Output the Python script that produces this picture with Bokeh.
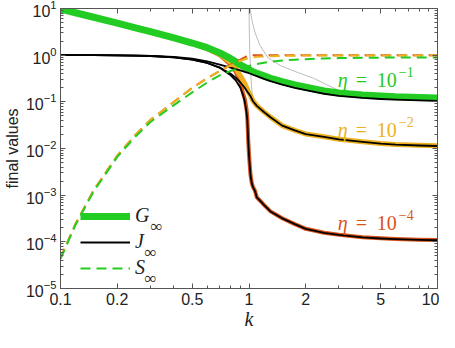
from bokeh.plotting import figure
from bokeh.models import (FixedTicker, LogAxis, CustomJSTickFormatter, Label,
                          Legend, LegendItem, Range1d)
from bokeh.embed import file_html
from bokeh.resources import INLINE

# ---------------- data ----------------
k_main = [0.1, 0.12, 0.15, 0.2, 0.25, 0.3, 0.4, 0.5, 0.6, 0.7, 0.8, 0.85, 0.9,
          0.95, 0.98, 1.0, 1.02, 1.05, 1.1, 1.2, 1.3, 1.5, 1.75, 2, 2.5, 3, 4,
          5, 6, 8, 10]

# eta = 1e-1 (green)
G_eta1 = [9.7, 8.1, 6.5, 4.85, 3.85, 3.2, 2.35, 1.82, 1.45, 1.12, 0.84, 0.72,
          0.62, 0.55, 0.51, 0.49, 0.47, 0.44, 0.41, 0.36, 0.32, 0.27, 0.23,
          0.205, 0.172, 0.155, 0.14, 0.133, 0.128, 0.124, 0.121]
J_eta1 = [1.0, 0.9998, 0.9988, 0.993, 0.98, 0.963, 0.915, 0.84, 0.74, 0.63,
          0.54, 0.50, 0.47, 0.44, 0.425, 0.41, 0.40, 0.38, 0.355, 0.31, 0.277,
          0.234, 0.2, 0.178, 0.149, 0.134, 0.121, 0.115, 0.111, 0.107, 0.105]
S_eta1 = [4.3e-5, 2.3e-4, 0.0012, 0.0066, 0.018, 0.037, 0.085, 0.16, 0.26,
          0.37, 0.46, 0.50, 0.53, 0.56, 0.575, 0.59, 0.60, 0.62, 0.645, 0.69,
          0.723, 0.766, 0.80, 0.822, 0.851, 0.866, 0.879, 0.885, 0.889, 0.893,
          0.895]

# eta = 1e-2 (orange)
G_eta2 = [9.7, 8.1, 6.5, 4.85, 3.85, 3.2, 2.33, 1.78, 1.38, 1.03, 0.70, 0.52,
          0.36, 0.25, 0.185, 0.155, 0.135, 0.105, 0.083, 0.061, 0.047, 0.031,
          0.0245, 0.0205, 0.0178, 0.0158, 0.014, 0.0128, 0.0122, 0.0117, 0.0114]
J_eta2 = [1.0, 0.9998, 0.9987, 0.993, 0.98, 0.959, 0.9, 0.8, 0.68, 0.54, 0.40,
          0.33, 0.26, 0.2, 0.165, 0.148, 0.131, 0.103, 0.082, 0.0605, 0.0467,
          0.0309, 0.0244, 0.0204, 0.0177, 0.0157, 0.0139, 0.0127, 0.0121,
          0.0116, 0.0113]
S_eta2 = [4.5e-5, 2.4e-4, 0.00128, 0.007, 0.0198, 0.041, 0.1, 0.2, 0.32, 0.46,
          0.60, 0.68, 0.76, 0.82, 0.85, 0.865, 0.88, 0.9, 0.92, 0.94, 0.953,
          0.969, 0.976, 0.98, 0.982, 0.984, 0.986, 0.987, 0.988, 0.988, 0.989]

# eta = 1e-4 (red)
k_red = [0.1, 0.12, 0.15, 0.2, 0.25, 0.3, 0.4, 0.5, 0.6, 0.7, 0.8, 0.85, 0.9,
         0.93, 0.95, 0.97, 0.98, 0.99, 1.0, 1.01, 1.02, 1.035, 1.05, 1.075, 1.1,
         1.15, 1.2, 1.3, 1.5, 1.75, 2, 2.5, 3, 4, 5, 6, 8, 10]
G_eta4 = [9.7, 8.1, 6.5, 4.85, 3.85, 3.2, 2.33, 1.77, 1.36, 1.0, 0.62, 0.44,
          0.27, 0.15, 0.115, 0.07, 0.045, 0.016, 0.0075, 0.0042, 0.0026,
          0.0018, 0.0015, 0.00125, 0.0009, 0.00075, 0.00062, 0.00045, 0.00032,
          0.00024, 0.00019, 0.000157, 0.000142, 0.000126, 0.000119, 0.000115,
          0.000111, 0.000109]
J_eta4 = [1.0, 0.9998, 0.9987, 0.993, 0.98, 0.959, 0.9, 0.8, 0.68, 0.54, 0.37,
          0.29, 0.2, 0.14, 0.1, 0.06, 0.04, 0.015, 0.0072, 0.0041, 0.00258,
          0.00179, 0.00149, 0.00124, 0.000895, 0.000746, 0.000617, 0.000448,
          0.000319, 0.000239, 0.000189, 0.000156, 0.000141, 0.000125, 0.000118,
          0.000114, 0.00011, 0.000108]
S_eta4 = [4.5e-5, 2.4e-4, 0.00128, 0.007, 0.0198, 0.041, 0.1, 0.2, 0.32, 0.46,
          0.63, 0.71, 0.80, 0.86, 0.9, 0.94, 0.96, 0.985, 0.993, 0.996, 0.9974,
          0.9982, 0.9985, 0.9988, 0.9991, 0.9993, 0.9994, 0.9996, 0.9997,
          0.9998, 0.9998, 0.9998, 0.9999, 0.9999, 0.9999, 0.9999, 0.9999,
          0.9999]

# thin grey curves near k = 1
k_grey_a = [1.0005, 1.004, 1.01, 1.018, 1.03, 1.045, 1.06]
grey_a = [10.5, 3.0, 1.1, 0.55, 0.23, 0.12, 0.085]
k_grey_b = [1.012, 1.033, 1.074, 1.14, 1.26, 1.476, 1.8, 2.2, 2.6, 3.0]
grey_b = [10.5, 5.9, 3.13, 1.66, 0.88, 0.59, 0.43, 0.32, 0.23, 0.175]

x_major = [0.1, 0.2, 0.5, 1, 2, 5, 10]
x_minor = [0.3, 0.4, 0.6, 0.7, 0.8, 0.9, 3, 4, 6, 7, 8, 9]
y_major = [1e-5, 1e-4, 1e-3, 1e-2, 1e-1, 1, 10]
y_minor = [m * 10.0 ** e for e in range(-5, 1) for m in range(2, 10)]

eta_labels = [("1", "#22cc22", 2.96, 0.294),
              ("2", "#edb120", 2.96, 0.0248),
              ("4", "#d95319", 2.96, 2.58e-4)]

# ---------------- styles ----------------
GREEN, ORANGE, RED, GREY = "#22cc22", "#edb120", "#d95319", "#bdbdbd"
AXC = "#555555"
SANS = "Liberation Sans"
SERIF = "Liberation Serif"
DASH = "10 6"

p = figure(width=439, height=332, x_axis_type="log", y_axis_type="log",
           x_range=Range1d(0.1, 10), y_range=Range1d(1e-5, 10),
           output_backend="svg", toolbar_location=None,
           min_border_left=52, min_border_right=2, min_border_top=8,
           min_border_bottom=40)
p.grid.visible = False
p.outline_line_color = AXC
p.background_fill_color = "white"
p.border_fill_color = "white"

p.line(k_grey_a, grey_a, color=GREY, line_width=1)
p.line(k_grey_b, grey_b, color=GREY, line_width=1)

p.line(k_red, G_eta4, color=RED, line_width=4, line_join="round")
p.line(k_main, G_eta2, color=ORANGE, line_width=5, line_join="round")
rG = p.line(k_main, G_eta1, color=GREEN, line_width=7, line_join="round")

p.line(k_red, J_eta4, color="black", line_width=1.8, line_join="round")
p.line(k_main, J_eta2, color="black", line_width=1.8, line_join="round")
rJ = p.line(k_main, J_eta1, color="black", line_width=1.8, line_join="round")

p.line(k_red, S_eta4, color=RED, line_width=2, line_dash=DASH)
p.line(k_main, S_eta2, color=ORANGE, line_width=2, line_dash=DASH)
rS = p.line(k_main, S_eta1, color=GREEN, line_width=2, line_dash=DASH)

# ---------------- axes ----------------
xt = FixedTicker(ticks=x_major, minor_ticks=x_minor)
yt = FixedTicker(ticks=y_major, minor_ticks=y_minor)
bx = p.below[0]
ly = p.left[0]
bx.ticker = xt
bx.formatter = CustomJSTickFormatter(code="return tick.toString();")
ly.ticker = yt
blank = CustomJSTickFormatter(code="return '';")
top = LogAxis(ticker=xt, formatter=blank)
right = LogAxis(ticker=yt, formatter=blank)
p.add_layout(top, "above")
p.add_layout(right, "right")

for ax in [bx, ly, top, right]:
    ax.axis_line_color = AXC
    ax.major_tick_line_color = AXC
    ax.minor_tick_line_color = AXC
    ax.major_tick_in = 5
    ax.major_tick_out = 0
    ax.minor_tick_in = 3
    ax.minor_tick_out = 0
for ax in [top, right]:
    ax.major_label_standoff = 0
    ax.axis_label_standoff = 0
    ax.major_label_text_font_size = "1px"
for ax in [bx, ly]:
    ax.major_label_text_font = SANS
    ax.major_label_text_font_size = "16px"
    ax.major_label_text_color = "#222222"
bx.major_label_standoff = 4
ly.major_label_standoff = 4

ly.axis_label = "final values"
ly.axis_label_text_font = SANS
ly.axis_label_text_font_style = "normal"
ly.axis_label_text_font_size = "16px"
ly.axis_label_text_color = "#222222"
ly.axis_label_standoff = 2

bx.axis_label = "k"
bx.axis_label_text_font = SERIF
bx.axis_label_text_font_style = "italic"
bx.axis_label_text_font_size = "20px"
bx.axis_label_text_color = "#222222"
bx.axis_label_standoff = 0

# ---------------- eta annotations ----------------
for ex, col, xa, ya in eta_labels:
    parts = [("η", 0, 0, "italic", "20px"),
             ("=", 18, 0, "normal", "20px"),
             ("10", 39, 0, "normal", "20px"),
             ("−" + ex, 61, 8, "normal", "14px")]
    for txt, dx, dy, sty, sz in parts:
        p.add_layout(Label(x=xa, y=ya, text=txt, x_offset=dx, y_offset=dy,
                           text_font=SERIF, text_font_style=sty,
                           text_font_size=sz, text_color=col,
                           text_baseline="alphabetic", text_align="left"))

# ---------------- legend ----------------
legend = Legend(items=[LegendItem(label="G", renderers=[rG]),
                       LegendItem(label="J", renderers=[rJ]),
                       LegendItem(label="S", renderers=[rS])],
                location=(20, 9), orientation="vertical", padding=0, margin=0,
                spacing=3, glyph_width=50, glyph_height=20, label_height=20,
                label_standoff=5, label_text_font=SERIF,
                label_text_font_style="italic", label_text_font_size="20px",
                label_text_color="#222222",
                background_fill_alpha=0, border_line_alpha=0)
p.add_layout(legend)

for xs, ys in [(90, 62.5), (84, 36.5), (84, 10.5)]:
    p.add_layout(Label(x=xs, y=ys, x_units="screen", y_units="screen",
                       text="∞", text_font=SERIF, text_font_size="17px",
                       text_color="#222222", text_baseline="alphabetic"))

open("out.html", "w").write(file_html(p, INLINE))
